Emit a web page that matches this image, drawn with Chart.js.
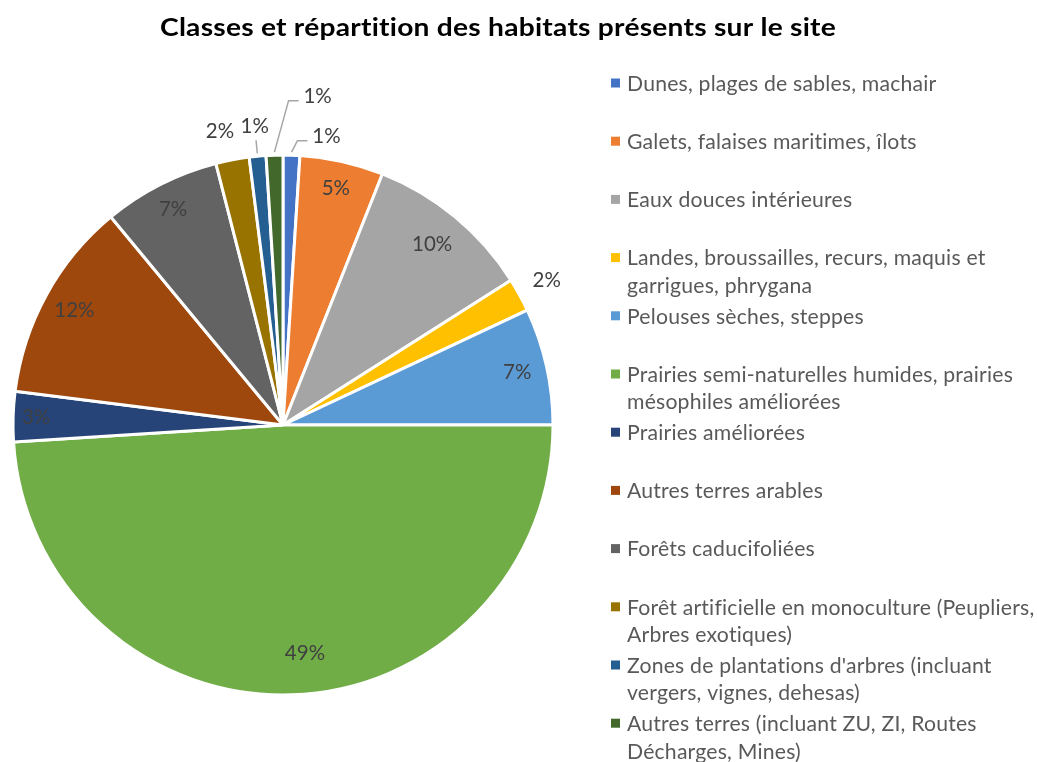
<!DOCTYPE html>
<html lang="fr">
<head>
<meta charset="utf-8">
<title>Classes et répartition des habitats présents sur le site</title>
<script src="https://cdn.jsdelivr.net/npm/chart.js@4.4.1/dist/chart.umd.min.js"></script>
<style>
  html, body { margin: 0; padding: 0; background: #ffffff; }
  #wrap { position: relative; width: 1037px; height: 762px; }
</style>
</head>
<body>
<div id="wrap"><canvas id="habitats" width="1037" height="762"></canvas></div>
<script>
// Habitat classes (legend lines) and their share of the site, in percent
const chartTitle = 'Classes et répartition des habitats présents sur le site';
const categories = [
  ['Dunes, plages de sables, machair'],
  ['Galets, falaises maritimes, îlots'],
  ['Eaux douces intérieures'],
  ['Landes, broussailles, recurs, maquis et', 'garrigues, phrygana'],
  ['Pelouses sèches, steppes'],
  ['Prairies semi-naturelles humides, prairies', 'mésophiles améliorées'],
  ['Prairies améliorées'],
  ['Autres terres arables'],
  ['Forêts caducifoliées'],
  ['Forêt artificielle en monoculture (Peupliers,', 'Arbres exotiques)'],
  ["Zones de plantations d'arbres (incluant", 'vergers, vignes, dehesas)'],
  ['Autres terres (incluant ZU, ZI, Routes', 'Décharges, Mines)']
];
const shares = [1, 5, 10, 2, 7, 49, 3, 12, 7, 2, 1, 1];
const sliceColors = [
  '#4472C4', '#ED7D31', '#A5A5A5', '#FFC000', '#5B9BD5', '#70AD47',
  '#264478', '#9E480E', '#636363', '#997300', '#255E91', '#43682B'
];

// Where each percentage label sits: distance from the centre, optional
// position along the slice (t), shift away from its slot and leader style
const labelPlacement = [
  { r: 300, dx: 34, dy: 11, leader: 'elbow' },
  { r: 242 }, { r: 234 }, { r: 301 }, { r: 240 },
  { r: 229, t: 0.479 },
  { r: 247 }, { r: 238 }, { r: 242 }, { r: 299, dx: -7 },
  { r: 300, leader: 'straight' },
  { r: 300, dx: 44, dy: -29, leader: 'elbow' }
];

const FONT = 'Lato, "Open Sans", "Liberation Sans", sans-serif';

// Percent labels with leader lines for the thin slices
const pieLabels = {
  id: 'pieLabels',
  afterDatasetsDraw(chart) {
    const ctx = chart.ctx;
    const arcs = chart.getDatasetMeta(0).data;
    ctx.save();
    ctx.font = '20.5px ' + FONT;
    ctx.fillStyle = '#404040';
    ctx.textAlign = 'center';
    ctx.textBaseline = 'middle';
    arcs.forEach((arc, i) => {
      const p = labelPlacement[i];
      const t = p.t === undefined ? 0.5 : p.t;
      const a = arc.startAngle + (arc.endAngle - arc.startAngle) * t;
      const lx = arc.x + Math.cos(a) * p.r + (p.dx || 0);
      const ly = arc.y + Math.sin(a) * p.r + (p.dy || 0);
      const text = shares[i] + '%';
      if (p.leader) {
        ctx.strokeStyle = '#A6A6A6';
        ctx.lineWidth = 1.5;
        ctx.beginPath();
        const sr = arc.outerRadius + 3;
        ctx.moveTo(arc.x + Math.cos(a) * sr, arc.y + Math.sin(a) * sr);
        if (p.leader === 'elbow') {
          ctx.lineTo(lx - 29, ly + 4.5);
          ctx.lineTo(lx - 19, ly + 4.5);
        } else {
          const er = arc.outerRadius + 16;
          ctx.lineTo(arc.x + Math.cos(a) * er, arc.y + Math.sin(a) * er);
        }
        ctx.stroke();
      }
      ctx.fillText(text, lx, ly);
    });
    ctx.restore();
  }
};

// Title and the wrapped legend on the right
const sideText = {
  id: 'sideText',
  afterDraw(chart) {
    const ctx = chart.ctx;
    ctx.save();
    // a tiny letter spacing keeps "fi"/"ti" as separate letters
    ctx.letterSpacing = '0.2px';
    ctx.fillStyle = '#000000';
    ctx.font = 'bold 24px ' + FONT;
    ctx.textAlign = 'center';
    ctx.textBaseline = 'middle';
    // the title is set in a condensed-looking bold, stretched to its line width
    const titleWidth = 676;
    const sx = titleWidth / ctx.measureText(chartTitle).width;
    ctx.save();
    ctx.translate(498, 28);
    ctx.scale(sx, 1);
    ctx.fillText(chartTitle, 0, 0);
    ctx.restore();

    ctx.font = '21.2px ' + FONT;
    ctx.textAlign = 'left';
    categories.forEach((lines, i) => {
      const y0 = 83 + 58.2 * i;
      ctx.fillStyle = sliceColors[i];
      ctx.fillRect(611, y0 - 4.5, 9, 9);
      ctx.fillStyle = '#595959';
      lines.forEach((line, k) => ctx.fillText(line, 627, y0 + 1 + k * 27.5));
    });
    ctx.restore();
  }
};

new Chart(document.getElementById('habitats'), {
  type: 'pie',
  data: {
    labels: categories,
    datasets: [{
      data: shares,
      backgroundColor: sliceColors,
      borderColor: '#ffffff',
      borderWidth: 3,
      hoverOffset: 0
    }]
  },
  options: {
    responsive: false,
    animation: false,
    radius: 270,
    layout: { padding: { left: 13, top: 155, right: 484, bottom: 67 } },
    plugins: {
      legend: { display: false },
      title: { display: false },
      tooltip: { enabled: false }
    }
  },
  plugins: [pieLabels, sideText]
});
</script>
</body>
</html>
